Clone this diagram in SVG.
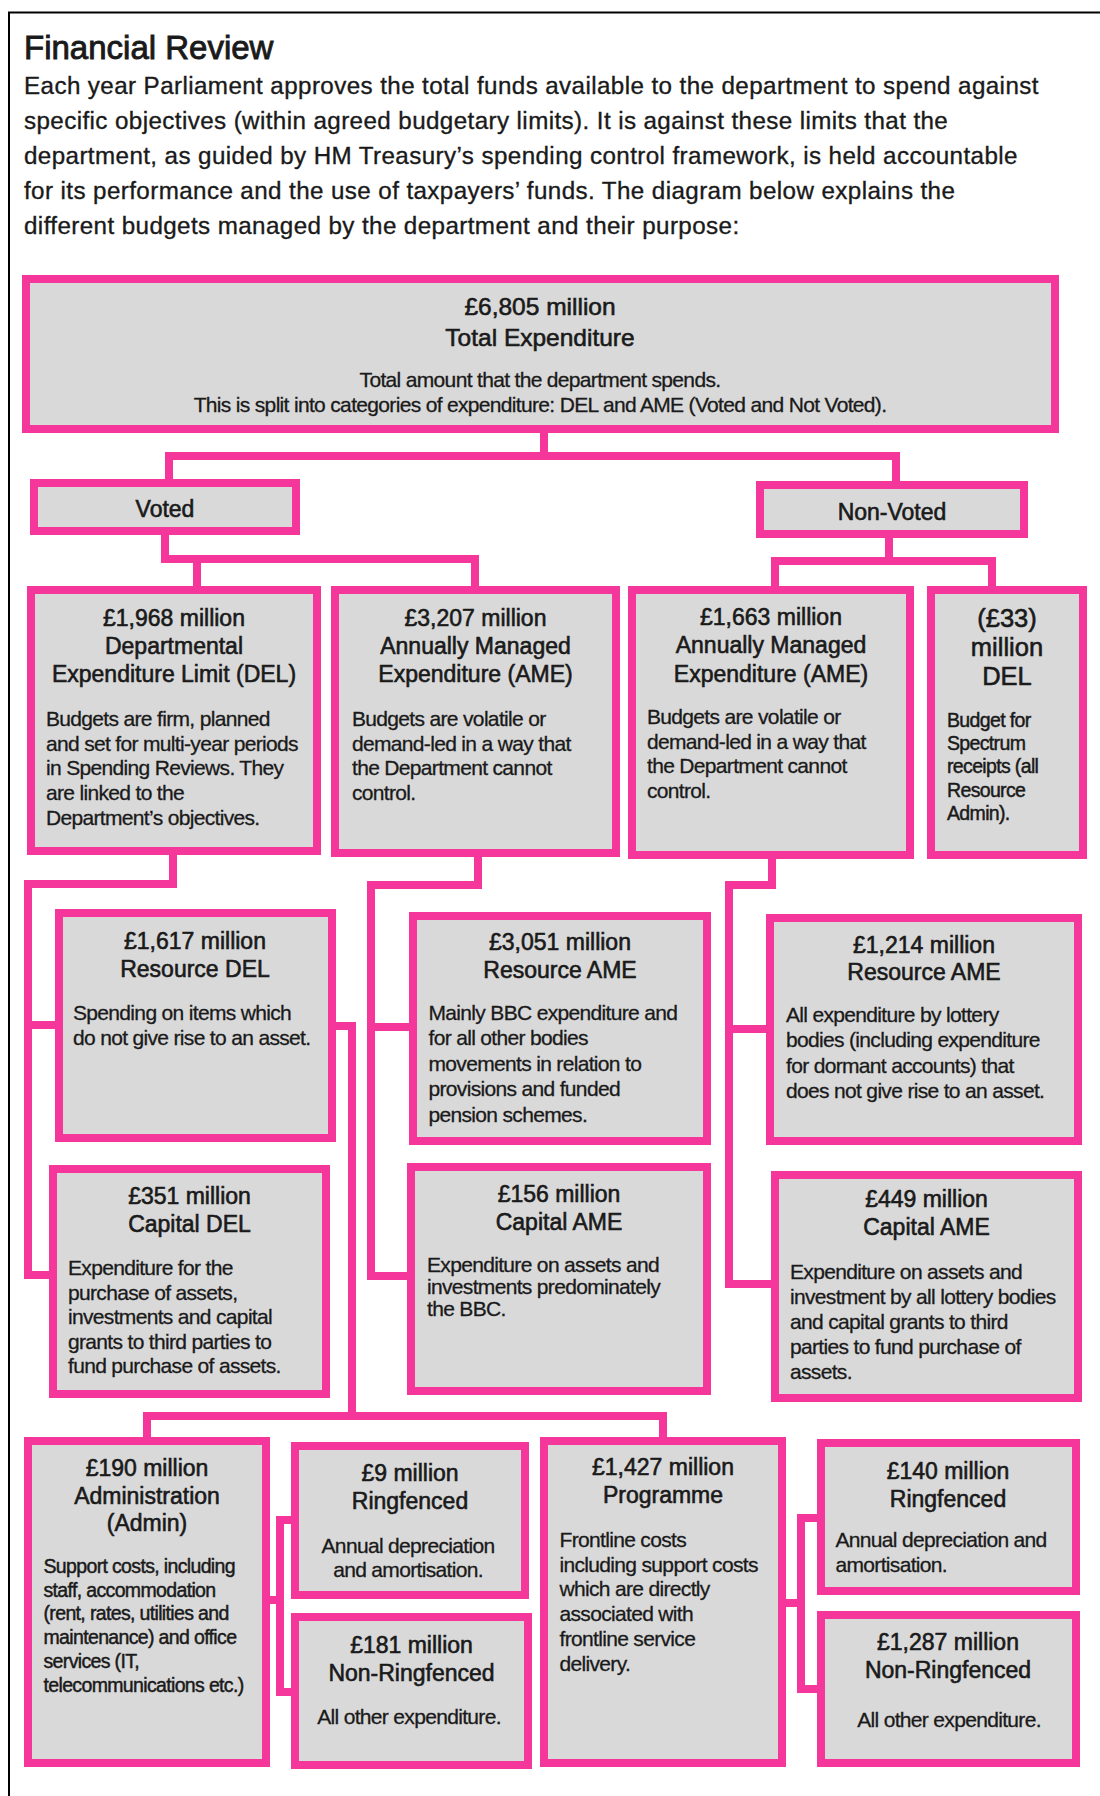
<svg xmlns="http://www.w3.org/2000/svg" width="1100" height="1796" viewBox="0 0 1100 1796">
<style>
.box{fill:#d9d9d9;stroke:#f5379b;stroke-width:8}
.conn{fill:none;stroke:#f5379b;stroke-width:8;stroke-linejoin:miter;stroke-linecap:butt}
text{font-family:"Liberation Sans",Arial,sans-serif;fill:#1a1a1a;stroke:#1a1a1a;stroke-width:0.3}
.title{font-size:33px;stroke-width:0.9}
.para{font-size:24.2px;letter-spacing:0.4px;stroke-width:0.35}
.h{font-size:23px;text-anchor:middle;stroke-width:0.6}
.hb{font-size:24.5px;text-anchor:middle;stroke-width:0.6}
.h33{font-size:25.5px;text-anchor:middle;stroke-width:0.6}
.b{font-size:21px;letter-spacing:-0.67px}
.bc{font-size:21px;letter-spacing:-0.67px;text-anchor:middle}
.s{font-size:19.5px;letter-spacing:-0.65px;stroke-width:0.45}
</style>
<rect x="0" y="0" width="1100" height="1796" fill="#ffffff"/>
<path d="M9,1796 V12.5 H1100" fill="none" stroke="#000" stroke-width="2"/>
<g id="header">
<text class="title" x="24" y="59">Financial Review</text>
<text class="para" x="24" y="94">Each year Parliament approves the total funds available to the department to spend against</text>
<text class="para" x="24" y="129">specific objectives (within agreed budgetary limits). It is against these limits that the</text>
<text class="para" x="24" y="164">department, as guided by HM Treasury’s spending control framework, is held accountable</text>
<text class="para" x="24" y="199">for its performance and the use of taxpayers’ funds. The diagram below explains the</text>
<text class="para" x="24" y="234">different budgets managed by the department and their purpose:</text>
</g>
<g id="connectors">
<path class="conn" d="M544,430 V456"/>
<path class="conn" d="M169,483 V456 H896 V485"/>
<path class="conn" d="M165,533 V559 H475 V590"/>
<path class="conn" d="M197,559 V590"/>
<path class="conn" d="M889,536 V561"/>
<path class="conn" d="M775,590 V561 H992 V590"/>
<path class="conn" d="M173,853 V884 H28 V1275 H52"/>
<path class="conn" d="M28,1025 H57"/>
<path class="conn" d="M334,1026 H352 V1416"/>
<path class="conn" d="M147,1439 V1416 H663 V1439"/>
<path class="conn" d="M478,855 V885 H371 V1276 H409"/>
<path class="conn" d="M371,1027 H411"/>
<path class="conn" d="M772,857 V885 H729 V1284 H773"/>
<path class="conn" d="M729,1029 H768"/>
<path class="conn" d="M268,1600 H280"/>
<path class="conn" d="M293,1520 H280 V1692 H293"/>
<path class="conn" d="M784,1603 H801"/>
<path class="conn" d="M819,1518 H801 V1689 H819"/>
</g>
<g id="total">
<rect class="box" x="26" y="279" width="1029" height="150"/>
<text class="hb" x="540" y="315">£6,805 million</text>
<text class="hb" x="540" y="346">Total Expenditure</text>
<text class="bc" x="540" y="387">Total amount that the department spends.</text>
<text class="bc" x="540" y="412">This is split into categories of expenditure: DEL and AME (Voted and Not Voted).</text>
</g>
<g id="voted">
<rect class="box" x="34" y="483" width="262" height="48"/>
<text class="h" x="165" y="517">Voted</text>
</g>
<g id="nonvoted">
<rect class="box" x="760" y="485" width="264" height="49"/>
<text class="h" x="892" y="520">Non-Voted</text>
</g>
<g id="del">
<rect class="box" x="31" y="590" width="286" height="261"/>
<text class="h" x="174" y="626">£1,968 million</text>
<text class="h" x="174" y="654">Departmental</text>
<text class="h" x="174" y="682">Expenditure Limit (DEL)</text>
<text class="b" x="46" y="726">Budgets are firm, planned</text>
<text class="b" x="46" y="750.5">and set for multi-year periods</text>
<text class="b" x="46" y="775">in Spending Reviews. They</text>
<text class="b" x="46" y="799.5">are linked to the</text>
<text class="b" x="46" y="824.5">Department’s objectives.</text>
</g>
<g id="ame-voted">
<rect class="box" x="335" y="590" width="281" height="263"/>
<text class="h" x="475.5" y="626">£3,207 million</text>
<text class="h" x="475.5" y="654">Annually Managed</text>
<text class="h" x="475.5" y="682">Expenditure (AME)</text>
<text class="b" x="352" y="726">Budgets are volatile or</text>
<text class="b" x="352" y="750.5">demand-led in a way that</text>
<text class="b" x="352" y="775">the Department cannot</text>
<text class="b" x="352" y="799.5">control.</text>
</g>
<g id="ame-nonvoted">
<rect class="box" x="632" y="590" width="278" height="265"/>
<text class="h" x="771" y="625">£1,663 million</text>
<text class="h" x="771" y="653">Annually Managed</text>
<text class="h" x="771" y="681.5">Expenditure (AME)</text>
<text class="b" x="647" y="724">Budgets are volatile or</text>
<text class="b" x="647" y="748.5">demand-led in a way that</text>
<text class="b" x="647" y="773">the Department cannot</text>
<text class="b" x="647" y="797.5">control.</text>
</g>
<g id="del-nonvoted">
<rect class="box" x="931" y="590" width="152" height="265"/>
<text class="h33" x="1007" y="627">(£33)</text>
<text class="h33" x="1007" y="656">million</text>
<text class="h33" x="1007" y="685">DEL</text>
<text class="s" x="947" y="727">Budget for</text>
<text class="s" x="947" y="750">Spectrum</text>
<text class="s" x="947" y="773">receipts (all</text>
<text class="s" x="947" y="796.5">Resource</text>
<text class="s" x="947" y="819.5">Admin).</text>
</g>
<g id="resource-del">
<rect class="box" x="59" y="913" width="273" height="225"/>
<text class="h" x="195" y="948.5">£1,617 million</text>
<text class="h" x="195" y="976.5">Resource DEL</text>
<text class="b" x="73" y="1019.5">Spending on items which</text>
<text class="b" x="73" y="1045">do not give rise to an asset.</text>
</g>
<g id="resource-ame-voted">
<rect class="box" x="413" y="916" width="294" height="225"/>
<text class="h" x="560" y="950">£3,051 million</text>
<text class="h" x="560" y="978">Resource AME</text>
<text class="b" x="428.5" y="1019.5">Mainly BBC expenditure and</text>
<text class="b" x="428.5" y="1045">for all other bodies</text>
<text class="b" x="428.5" y="1070.5">movements in relation to</text>
<text class="b" x="428.5" y="1096">provisions and funded</text>
<text class="b" x="428.5" y="1121.5">pension schemes.</text>
</g>
<g id="resource-ame-nonvoted">
<rect class="box" x="770" y="918" width="308" height="223"/>
<text class="h" x="924" y="952.5">£1,214 million</text>
<text class="h" x="924" y="980">Resource AME</text>
<text class="b" x="786" y="1021.5">All expenditure by lottery</text>
<text class="b" x="786" y="1047">bodies (including expenditure</text>
<text class="b" x="786" y="1072.5">for dormant accounts) that</text>
<text class="b" x="786" y="1098">does not give rise to an asset.</text>
</g>
<g id="capital-del">
<rect class="box" x="53" y="1169" width="273" height="225"/>
<text class="h" x="189.5" y="1203.5">£351 million</text>
<text class="h" x="189.5" y="1231.5">Capital DEL</text>
<text class="b" x="68" y="1275">Expenditure for the</text>
<text class="b" x="68" y="1299.5">purchase of assets,</text>
<text class="b" x="68" y="1324">investments and capital</text>
<text class="b" x="68" y="1348.5">grants to third parties to</text>
<text class="b" x="68" y="1373">fund purchase of assets.</text>
</g>
<g id="capital-ame-voted">
<rect class="box" x="411" y="1167" width="296" height="224"/>
<text class="h" x="559" y="1201.5">£156 million</text>
<text class="h" x="559" y="1230">Capital AME</text>
<text class="b" x="427" y="1271.5">Expenditure on assets and</text>
<text class="b" x="427" y="1293.5">investments predominately</text>
<text class="b" x="427" y="1315.5">the BBC.</text>
</g>
<g id="capital-ame-nonvoted">
<rect class="box" x="775" y="1175" width="303" height="223"/>
<text class="h" x="926.5" y="1206.5">£449 million</text>
<text class="h" x="926.5" y="1235">Capital AME</text>
<text class="b" x="790" y="1278.5">Expenditure on assets and</text>
<text class="b" x="790" y="1303.5">investment by all lottery bodies</text>
<text class="b" x="790" y="1328.5">and capital grants to third</text>
<text class="b" x="790" y="1354">parties to fund purchase of</text>
<text class="b" x="790" y="1379">assets.</text>
</g>
<g id="admin">
<rect class="box" x="28" y="1441" width="238" height="322"/>
<text class="h" x="147" y="1476">£190 million</text>
<text class="h" x="147" y="1504">Administration</text>
<text class="h" x="147" y="1531">(Admin)</text>
<text class="s" x="43.5" y="1573">Support costs, including</text>
<text class="s" x="43.5" y="1596.5">staff, accommodation</text>
<text class="s" x="43.5" y="1620">(rent, rates, utilities and</text>
<text class="s" x="43.5" y="1644">maintenance) and office</text>
<text class="s" x="43.5" y="1667.5">services (IT,</text>
<text class="s" x="43.5" y="1691.5">telecommunications etc.)</text>
</g>
<g id="admin-ringfenced">
<rect class="box" x="295" y="1446" width="230" height="149"/>
<text class="h" x="410" y="1481">£9 million</text>
<text class="h" x="410" y="1509">Ringfenced</text>
<text class="bc" x="408" y="1552.5">Annual depreciation</text>
<text class="bc" x="408" y="1576.5">and amortisation.</text>
</g>
<g id="admin-nonringfenced">
<rect class="box" x="295" y="1617" width="233" height="148"/>
<text class="h" x="411.5" y="1652.5">£181 million</text>
<text class="h" x="411.5" y="1680.5">Non-Ringfenced</text>
<text class="bc" x="409" y="1723.5">All other expenditure.</text>
</g>
<g id="programme">
<rect class="box" x="544" y="1441" width="238" height="322"/>
<text class="h" x="663" y="1475">£1,427 million</text>
<text class="h" x="663" y="1503">Programme</text>
<text class="b" x="559.5" y="1546.5">Frontline costs</text>
<text class="b" x="559.5" y="1571.5">including support costs</text>
<text class="b" x="559.5" y="1596">which are directly</text>
<text class="b" x="559.5" y="1621">associated with</text>
<text class="b" x="559.5" y="1646">frontline service</text>
<text class="b" x="559.5" y="1670.5">delivery.</text>
</g>
<g id="programme-ringfenced">
<rect class="box" x="821" y="1443" width="255" height="148"/>
<text class="h" x="948" y="1478.5">£140 million</text>
<text class="h" x="948" y="1506.5">Ringfenced</text>
<text class="b" x="835.5" y="1546.5">Annual depreciation and</text>
<text class="b" x="835.5" y="1571.5">amortisation.</text>
</g>
<g id="programme-nonringfenced">
<rect class="box" x="821" y="1615" width="255" height="148"/>
<text class="h" x="948" y="1649.5">£1,287 million</text>
<text class="h" x="948" y="1677.5">Non-Ringfenced</text>
<text class="bc" x="949" y="1726.5">All other expenditure.</text>
</g>
</svg>
